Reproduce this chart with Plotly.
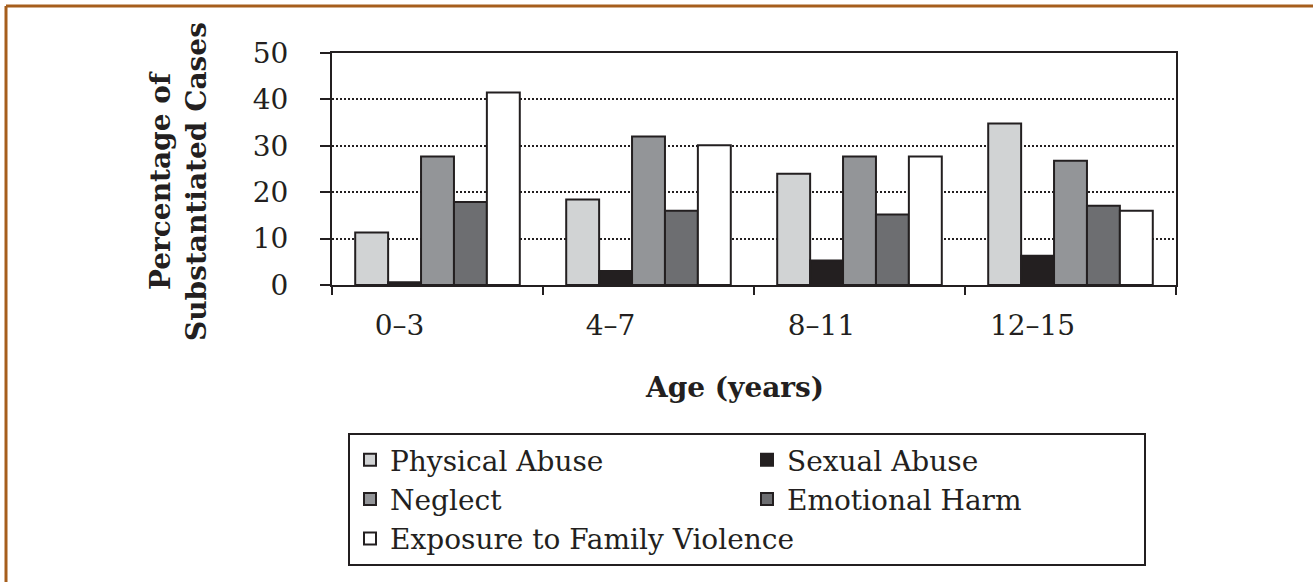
import plotly.graph_objects as go

# ---- data ----
ages = ["0–3", "4–7", "8–11", "12–15"]
physical_abuse = [11.3, 18.4, 24.0, 34.8]
sexual_abuse = [0.6, 3.0, 5.3, 6.3]
neglect = [27.7, 32.0, 27.7, 26.8]
emotional_harm = [17.9, 16.0, 15.2, 17.1]
family_violence = [41.5, 30.1, 27.7, 16.0]

series_names = ["Physical Abuse", "Sexual Abuse", "Neglect",
                "Emotional Harm", "Exposure to Family Violence"]
series_values = [physical_abuse, sexual_abuse, neglect, emotional_harm, family_violence]
series_colors = ["#d1d3d4", "#231f20", "#939598", "#6d6e71", "#ffffff"]

y_ticks = [0, 10, 20, 30, 40, 50]
x_title = "Age (years)"
y_title = "Percentage of<br>Substantiated Cases"

# ---- geometry helpers (pixel layout of the page) ----
W, H = 1313, 582
L, R, T, B = 332, 137, 53, 297
PW = W - L - R
PH = H - T - B


def px_x(p):
    return (p - L) / PW


def px_y(p):
    return (H - B - p) / PH


INK = "#231f20"
SERIF = "DejaVu Serif"

fig = go.Figure()
for name, vals, col in zip(series_names, series_values, series_colors):
    fig.add_trace(go.Bar(
        x=ages, y=vals, name=name,
        marker=dict(color=col, line=dict(color=INK, width=2)),
    ))

fig.update_layout(
    width=W, height=H, autosize=False,
    margin=dict(l=L, r=R, t=T, b=B, autoexpand=False),
    paper_bgcolor="white", plot_bgcolor="white",
    barmode="group", bargap=0.22, bargroupgap=0,
    font=dict(family=SERIF, color=INK, size=28),
    showlegend=True,
    legend=dict(
        orientation="h",
        x=px_x(348), xanchor="left",
        y=px_y(433), yanchor="top",
        entrywidth=352, entrywidthmode="pixels",
        font=dict(family=SERIF, size=28, color=INK),
        bgcolor="white", bordercolor=INK, borderwidth=2,
        traceorder="normal",
    ),
    xaxis=dict(
        type="category",
        showline=True, linecolor=INK, linewidth=2, mirror=True,
        ticks="outside", tickson="boundaries", ticklen=8, tickwidth=2, tickcolor=INK,
        tickfont=dict(family=SERIF, size=28, color=INK),
        ticklabelshift=-38, ticklabelstandoff=14,
        showgrid=False, zeroline=False,
    ),
    yaxis=dict(
        range=[0, 50], tickvals=y_ticks,
        showline=True, linecolor=INK, linewidth=2, mirror=True,
        ticks="outside", ticklen=10, tickwidth=2, tickcolor=INK,
        tickfont=dict(family=SERIF, size=28, color=INK),
        ticklabelstandoff=26,
        showgrid=True, gridcolor=INK, gridwidth=1.5, griddash="2px,2px",
        zeroline=False,
    ),
    annotations=[
        dict(text=x_title, xref="paper", yref="paper",
             x=px_x(734), y=px_y(387), xanchor="center", yanchor="middle",
             showarrow=False, font=dict(family=SERIF, size=28, color=INK, weight="bold")),
        dict(text=y_title, xref="paper", yref="paper",
             x=px_x(178), y=px_y(182), xanchor="center", yanchor="middle",
             textangle=-90, showarrow=False,
             font=dict(family=SERIF, size=28, color=INK, weight="bold")),
    ],
    shapes=[
        dict(type="line", xref="paper", yref="paper",
             x0=px_x(6), x1=px_x(W + 2), y0=px_y(6), y1=px_y(6),
             line=dict(color="#a65e1c", width=3)),
        dict(type="line", xref="paper", yref="paper",
             x0=px_x(6), x1=px_x(6), y0=px_y(6), y1=px_y(H + 2),
             line=dict(color="#a65e1c", width=3)),
    ],
)

fig.write_html(
    "out.html",
    config={"displayModeBar": False},
    post_script="document.body.style.margin='0px';document.body.style.overflow='hidden';",
)
